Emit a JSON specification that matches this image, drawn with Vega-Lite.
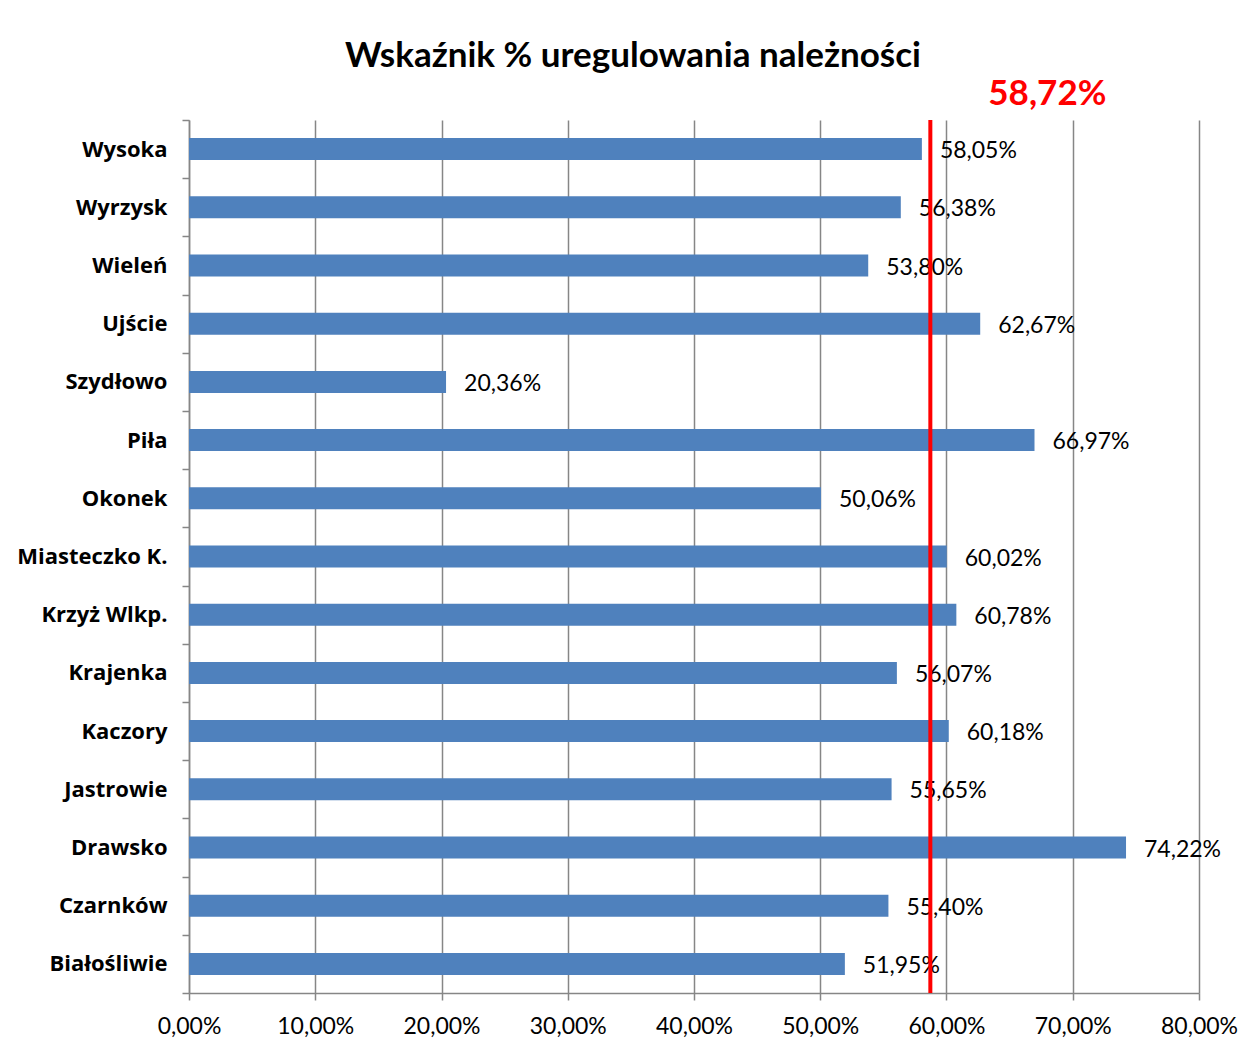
{
  "$schema": "https://vega.github.io/schema/vega-lite/v6.json",
  "autosize": {"type": "none"},
  "width": 1010,
  "height": 873,
  "padding": {"left": 189, "top": 120, "right": 48, "bottom": 48},
  "background": "white",
  "config": {
    "locale": {"number": {"decimal": ",", "thousands": " ", "grouping": [3], "currency": ["", " zł"]}},
    "font": "Lato",
    "view": {"stroke": null}
  },
  "title": {
    "text": "Wskaźnik % uregulowania należności",
    "fontSize": 35,
    "font": "Lato",
    "fontWeight": "bold",
    "color": "black",
    "anchor": "middle",
    "dx": -61,
    "offset": 3
  },
  "data": {
    "values": [
      {"gmina": "Wysoka", "wskaznik": 0.5805, "srednia": 0.5872},
      {"gmina": "Wyrzysk", "wskaznik": 0.5638, "srednia": 0.5872},
      {"gmina": "Wieleń", "wskaznik": 0.5380, "srednia": 0.5872},
      {"gmina": "Ujście", "wskaznik": 0.6267, "srednia": 0.5872},
      {"gmina": "Szydłowo", "wskaznik": 0.2036, "srednia": 0.5872},
      {"gmina": "Piła", "wskaznik": 0.6697, "srednia": 0.5872},
      {"gmina": "Okonek", "wskaznik": 0.5006, "srednia": 0.5872},
      {"gmina": "Miasteczko K.", "wskaznik": 0.6002, "srednia": 0.5872},
      {"gmina": "Krzyż Wlkp.", "wskaznik": 0.6078, "srednia": 0.5872},
      {"gmina": "Krajenka", "wskaznik": 0.5607, "srednia": 0.5872},
      {"gmina": "Kaczory", "wskaznik": 0.6018, "srednia": 0.5872},
      {"gmina": "Jastrowie", "wskaznik": 0.5565, "srednia": 0.5872},
      {"gmina": "Drawsko", "wskaznik": 0.7422, "srednia": 0.5872},
      {"gmina": "Czarnków", "wskaznik": 0.5540, "srednia": 0.5872},
      {"gmina": "Białośliwie", "wskaznik": 0.5195, "srednia": 0.5872}
    ]
  },
  "encoding": {
    "y": {
      "field": "gmina",
      "type": "nominal",
      "sort": null,
      "scale": {"paddingInner": 0, "paddingOuter": 0},
      "axis": {
        "title": null,
        "tickBand": "extent",
        "grid": false,
        "domainColor": "#868686",
        "domainWidth": 1.5,
        "tickColor": "#868686",
        "tickWidth": 1.5,
        "tickSize": 7,
        "labelFontSize": 22,
        "labelFontWeight": "bold",
        "labelColor": "black",
        "labelPadding": 15,
        "labelFont": "Open Sans",
        "labelLimit": 300
      }
    }
  },
  "layer": [
    {
      "mark": {"type": "bar", "color": "#4F81BD", "size": 22},
      "encoding": {
        "x": {
          "field": "wskaznik",
          "type": "quantitative",
          "scale": {"domain": [0, 0.8], "nice": false},
          "axis": {
            "title": null,
            "values": [0, 0.1, 0.2, 0.3, 0.4, 0.5, 0.6, 0.7, 0.8],
            "format": ".2%",
            "grid": true,
            "gridColor": "#868686",
            "gridOpacity": 1,
            "gridWidth": 1.5,
            "domainColor": "#868686",
            "domainWidth": 1.5,
            "tickColor": "#868686",
            "tickWidth": 1.5,
            "tickSize": 7,
            "labelFontSize": 23,
            "labelColor": "black",
            "labelPadding": 15,
            "labelFont": "Lato",
            "labelFlush": false
          }
        }
      }
    },
    {
      "mark": {"type": "text", "align": "left", "baseline": "middle", "dx": 18, "dy": 2, "fontSize": 23, "color": "black", "font": "Lato"},
      "encoding": {
        "x": {"field": "wskaznik", "type": "quantitative"},
        "text": {"field": "wskaznik", "type": "quantitative", "format": ".2%"}
      }
    },
    {
      "transform": [{"filter": "datum.gmina === 'Wysoka'"}],
      "mark": {"type": "rule", "color": "#FF0000", "strokeWidth": 4},
      "encoding": {
        "x": {"field": "srednia", "type": "quantitative"},
        "y": null
      }
    },
    {
      "transform": [{"filter": "datum.gmina === 'Wysoka'"}],
      "mark": {"type": "text", "align": "center", "baseline": "middle", "dx": 117, "dy": -55, "fontSize": 35, "fontWeight": "bold", "color": "#FF0000", "font": "Lato"},
      "encoding": {
        "x": {"field": "srednia", "type": "quantitative"},
        "text": {"field": "srednia", "type": "quantitative", "format": ".2%"}
      }
    }
  ]
}
